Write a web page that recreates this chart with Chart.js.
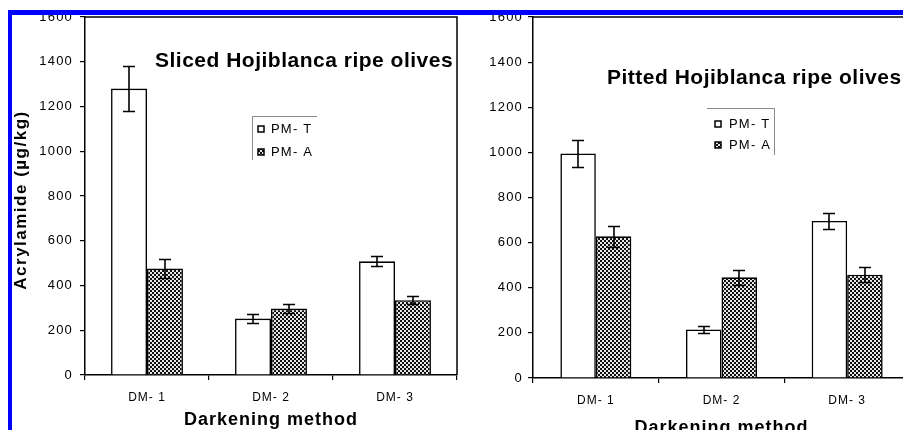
<!DOCTYPE html>
<html><head><meta charset="utf-8">
<script src="https://cdn.jsdelivr.net/npm/chart.js@4.4.0/dist/chart.umd.min.js"></script>
<style>
html,body{margin:0;padding:0;width:903px;height:430px;overflow:hidden;background:#fff;}
#wrap{position:relative;width:903px;height:430px;overflow:hidden;background:#fff;}
#c1{position:absolute;left:0;top:0;width:470px;height:430px;}
#c2{position:absolute;left:460px;top:0;width:460px;height:430px;}
.blue{position:absolute;background:#0000ff;}
</style></head><body>
<div id="wrap">
<canvas id="c2" width="460" height="430"></canvas>
<canvas id="c1" width="470" height="430"></canvas>
<div class="blue" style="left:8px;top:10px;width:4px;height:420px"></div>
<div class="blue" style="left:8px;top:10px;width:895px;height:5px"></div>
</div>
<script>
const categories = ['DM- 1', 'DM- 2', 'DM- 3'];
const seriesLabels = ['PM- T', 'PM- A'];
const slicedPMT = [1280, 252, 508];
const slicedPMTErr = [100, 20, 23];
const slicedPMA = [476, 297, 334];
const slicedPMAErr = [42, 22, 18];
const pittedPMT = [995, 215, 696];
const pittedPMTErr = [60, 14, 34];
const pittedPMA = [628, 446, 458];
const pittedPMAErr = [46, 33, 32];
const yMin = 0, yMax = 1600, yStep = 200;
const titles = ['Sliced Hojiblanca ripe olives', 'Pitted Hojiblanca ripe olives'];
const xTitle = 'Darkening method';
const yTitle = 'Acrylamide (\u00b5g/kg)';

const FONT = "'Liberation Sans', Arial, sans-serif";

function makePattern(ctx) {
  const p = document.createElement('canvas');
  p.width = 4; p.height = 4;
  const g = p.getContext('2d');
  g.fillStyle = '#e6e6e6'; g.fillRect(0, 0, 4, 4);
  g.fillStyle = '#111111'; g.fillRect(0, 0, 2, 2); g.fillRect(2, 2, 2, 2);
  return ctx.createPattern(p, 'repeat');
}

function build(id, cfg) {
  const canvas = document.getElementById(id);
  const ctx = canvas.getContext('2d');
  const pattern = makePattern(ctx);

  const spacingPlugin = {
    id: 'spacing',
    beforeDraw(chart) { chart.ctx.letterSpacing = '1px'; }
  };

  const errorBars = {
    id: 'errorBars',
    afterDatasetsDraw(chart) {
      const c = chart.ctx, y = chart.scales.y;
      c.save();
      c.strokeStyle = '#000'; c.lineWidth = 1.6;
      chart.data.datasets.forEach((ds, i) => {
        chart.getDatasetMeta(i).data.forEach((bar, j) => {
          const v = ds.data[j], e = ds.errors[j];
          const yt = Math.round(y.getPixelForValue(v + e)) + 0.5;
          const yb = Math.round(y.getPixelForValue(v - e)) + 0.5;
          const x = Math.round(bar.x);
          c.beginPath();
          c.moveTo(x, yt); c.lineTo(x, yb);
          c.moveTo(x - 6, yt); c.lineTo(x + 6, yt);
          c.moveTo(x - 6, yb); c.lineTo(x + 6, yb);
          c.stroke();
        });
      });
      c.restore();
      c.letterSpacing = '1.2px';
    }
  };

  const decor = {
    id: 'decor',
    afterDraw(chart) {
      const c = chart.ctx, a = chart.chartArea;
      c.save();
      c.strokeStyle = '#000'; c.lineWidth = 1.5;
      c.beginPath();
      c.moveTo(a.left, a.top); c.lineTo(a.right, a.top); c.lineTo(a.right, a.bottom);
      c.stroke();
      c.fillStyle = '#000';
      c.letterSpacing = '0.5px';
      c.font = 'bold 21px ' + FONT;
      c.textAlign = 'left'; c.textBaseline = 'alphabetic';
      c.fillText(cfg.title, cfg.titleX, cfg.titleY);
      c.letterSpacing = '1px';
      c.font = 'bold 18px ' + FONT;
      c.textAlign = 'center';
      c.fillText(xTitle, (a.left + cfg.xTitleRight) / 2, cfg.xTitleY);
      if (cfg.showYTitle) {
        c.save();
        c.letterSpacing = '1.5px';
        c.font = 'bold 17px ' + FONT;
        c.translate(26, 200);
        c.rotate(-Math.PI / 2);
        c.textAlign = 'center';
        c.fillText(yTitle, 0, 0);
        c.restore();
      }
      const L = cfg.legend;
      c.strokeStyle = '#8a8a8a'; c.lineWidth = 1;
      c.beginPath();
      L.lines.forEach(s => { c.moveTo(s[0], s[1]); c.lineTo(s[2], s[3]); });
      c.stroke();
      chart.data.datasets.forEach((ds, i) => {
        const my = L.markerY[i];
        c.fillStyle = ds.backgroundColor;
        c.fillRect(L.markerX, my, 6, 6);
        c.strokeStyle = '#000'; c.lineWidth = 1.5;
        c.strokeRect(L.markerX, my, 6, 6);
        c.fillStyle = '#000';
        c.letterSpacing = '1.2px';
        c.font = '13px ' + FONT;
        c.textAlign = 'left'; c.textBaseline = 'middle';
        c.fillText(ds.label, L.textX, L.textY[i]);
      });
      c.restore();
    }
  };

  return new Chart(ctx, {
    type: 'bar',
    data: {
      labels: categories,
      datasets: [
        { label: seriesLabels[0], data: cfg.pmt, errors: cfg.pmtErr, backgroundColor: '#ffffff',
          borderColor: '#000', borderWidth: 1.6, categoryPercentage: cfg.catPct, barPercentage: 1.0 },
        { label: seriesLabels[1], data: cfg.pma, errors: cfg.pmaErr, backgroundColor: pattern,
          borderColor: '#000', borderWidth: 1.6, categoryPercentage: cfg.catPct, barPercentage: 1.0 }
      ]
    },
    options: {
      responsive: false, animation: false, devicePixelRatio: 1,
      layout: { padding: { left: 0, right: cfg.padRight, top: 17, bottom: 0 } },
      plugins: { legend: { display: false }, tooltip: { enabled: false }, title: { display: false } },
      scales: {
        x: {
          grid: { display: true, offset: true, drawOnChartArea: false, drawTicks: true, tickLength: 5, color: '#000', lineWidth: 1.2 },
          border: { display: true, color: '#000', width: 1.5 },
          ticks: { color: '#000', font: { family: FONT, size: 12 }, padding: 10, maxRotation: 0, autoSkip: false },
          afterFit(s) { s.height = cfg.xAxisH; }
        },
        y: {
          min: yMin, max: yMax,
          ticks: { stepSize: yStep, color: '#000', font: { family: FONT, size: 13 }, padding: cfg.yPad, z: 1,
                   callback: (v) => String(v) },
          grid: { drawOnChartArea: false, drawTicks: true, tickLength: 5, color: '#000', lineWidth: 1.2 },
          border: { display: true, color: '#000', width: 1.5 },
          afterFit(s) { s.width = cfg.yAxisW; }
        }
      }
    },
    plugins: [spacingPlugin, errorBars, decor]
  });
}

build('c1', {
  pmt: slicedPMT, pmtErr: slicedPMTErr, pma: slicedPMA, pmaErr: slicedPMAErr,
  catPct: 0.58, padRight: 13, xAxisH: 55, yAxisW: 85, yPad: 7,
  title: titles[0], titleX: 155, titleY: 67,
  xTitleRight: 457, xTitleY: 425, showYTitle: true,
  legend: { lines: [[252, 116.5, 317, 116.5], [252.5, 116, 252.5, 160]], markerX: 258, markerY: [126, 149], textX: 271, textY: [129, 152] }
});
build('c2', {
  pmt: pittedPMT, pmtErr: pittedPMTErr, pma: pittedPMA, pmaErr: pittedPMAErr,
  catPct: 0.565, padRight: 10, xAxisH: 52, yAxisW: 73, yPad: 5,
  title: titles[1], titleX: 147, titleY: 84,
  xTitleRight: 450, xTitleY: 433, showYTitle: false,
  legend: { lines: [[247, 108.5, 314, 108.5], [314.5, 108, 314.5, 155]], markerX: 255, markerY: [121, 142], textX: 269, textY: [124, 145] }
});
</script>
</body></html>
